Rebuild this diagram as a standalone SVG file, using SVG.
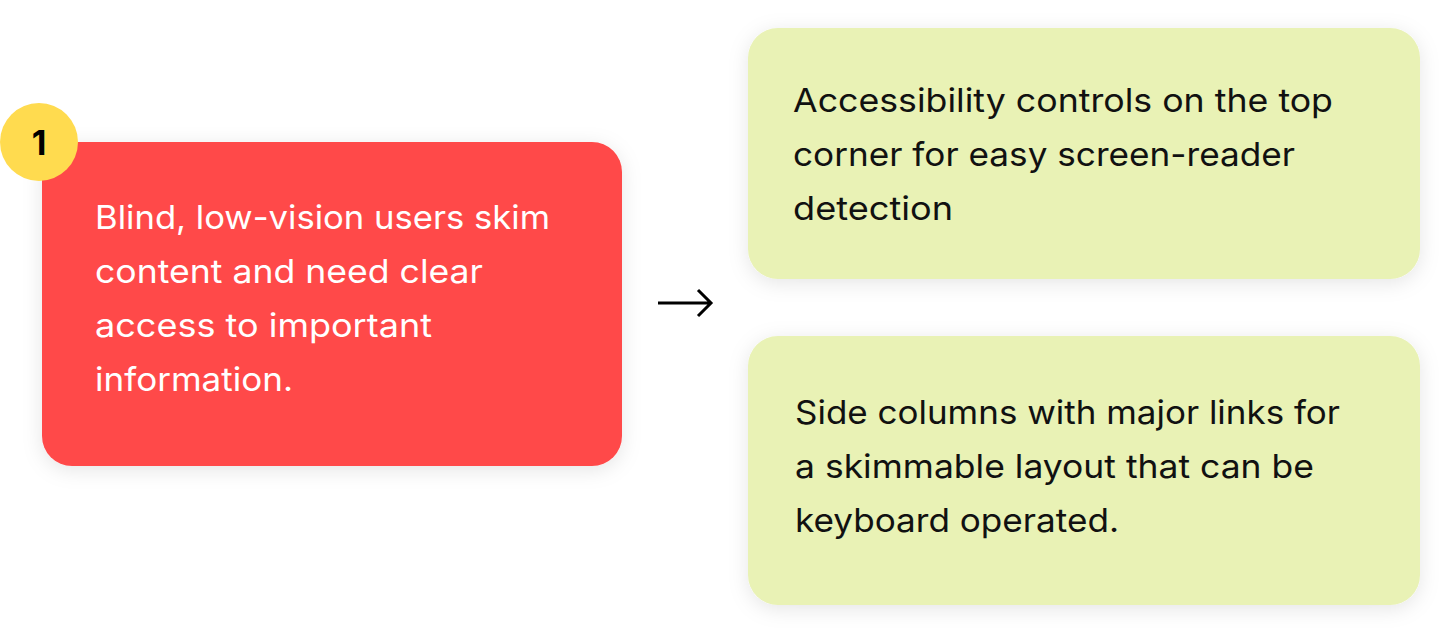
<svg xmlns="http://www.w3.org/2000/svg" width="1452" height="642" viewBox="0 0 1452 642">
<defs>
<filter id="sh" x="-20%" y="-20%" width="140%" height="140%">
<feDropShadow dx="0" dy="4" stdDeviation="10" flood-color="#000" flood-opacity="0.10"/>
</filter>
<style>
.t{font-family:"Inter","Noto Sans",sans-serif;font-size:33px;}
.w{fill:#ffffff;}
.k{fill:#111111;}
</style>
</defs>
<rect width="1452" height="642" fill="#ffffff"/>
<g id="node-problem">
<rect x="42" y="142" width="580" height="324" rx="30" fill="#ff4a4a" filter="url(#sh)"/>
<text class="t w" x="95" y="229" textLength="455" lengthAdjust="spacingAndGlyphs">Blind, low-vision users skim</text>
<text class="t w" x="95" y="283" textLength="388" lengthAdjust="spacingAndGlyphs">content and need clear</text>
<text class="t w" x="95" y="337" textLength="337" lengthAdjust="spacingAndGlyphs">access to important</text>
<text class="t w" x="95" y="391" textLength="198" lengthAdjust="spacingAndGlyphs">information.</text>
</g>
<g id="node-badge">
<circle cx="39" cy="142" r="39" fill="#ffdb4f"/>
<text x="39" y="155" text-anchor="middle" font-family="Inter,'Noto Sans',sans-serif" font-size="34" font-weight="700" fill="#000">1</text>
</g>
<g id="node-solution1">
<rect x="748" y="28" width="672" height="251" rx="30" fill="#e9f2b5" filter="url(#sh)"/>
<text class="t k" x="793" y="112" textLength="540" lengthAdjust="spacingAndGlyphs">Accessibility controls on the top</text>
<text class="t k" x="793" y="166" textLength="502" lengthAdjust="spacingAndGlyphs">corner for easy screen-reader</text>
<text class="t k" x="793" y="220" textLength="160" lengthAdjust="spacingAndGlyphs">detection</text>
</g>
<g id="node-solution2">
<rect x="748" y="336" width="672" height="269" rx="30" fill="#e9f2b5" filter="url(#sh)"/>
<text class="t k" x="795" y="424" textLength="545" lengthAdjust="spacingAndGlyphs">Side columns with major links for</text>
<text class="t k" x="795" y="478" textLength="519" lengthAdjust="spacingAndGlyphs">a skimmable layout that can be</text>
<text class="t k" x="795" y="532" textLength="324" lengthAdjust="spacingAndGlyphs">keyboard operated.</text>
</g>
<g id="connectors">
<path d="M658 303 H710 M698 290 L711 303 L698 316" fill="none" stroke="#000" stroke-width="3"/>
</g>
</svg>
